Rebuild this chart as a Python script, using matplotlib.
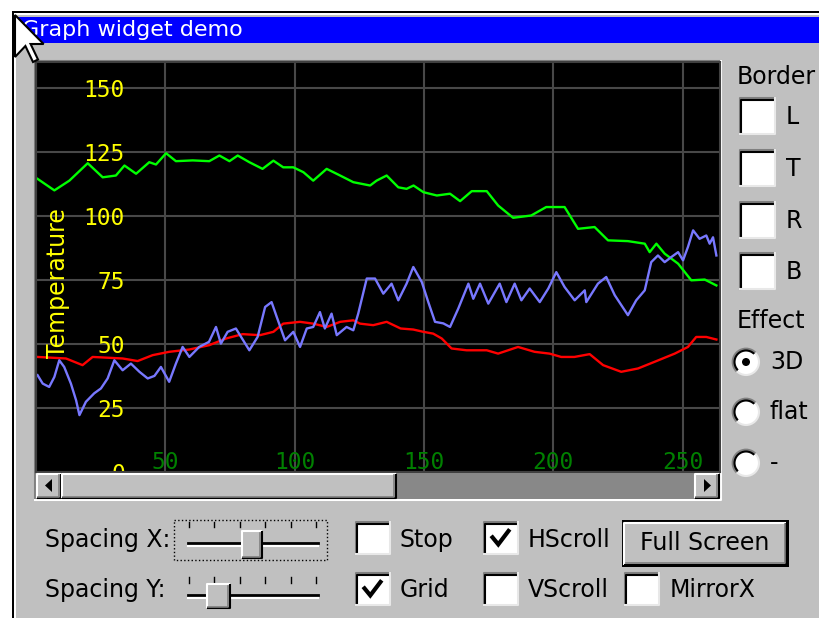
import matplotlib

matplotlib.use("Agg")
import matplotlib.pyplot as plt
from matplotlib.patches import Arc, Circle, Polygon, Rectangle
import numpy as np

# ---------------------------------------------------------------------------
# Data
# ---------------------------------------------------------------------------

green_x = [0.6, 7.1, 12.9, 20, 25.8, 30.9, 34.2, 38.7, 43.8, 46.4, 50.3, 54.1, 60.6, 67,
           70.9, 74.8, 78, 82.5, 87.6, 91.8, 95.6, 99.5, 103.4, 107.2, 112.4, 117.6,
           122.7, 129.2, 131.7, 135.6, 140.1, 143.3, 146, 149.8, 155, 160.1, 164, 168.5,
           174.3, 178.7, 184.5, 191.5, 197.3, 204.4, 209.6, 216, 221.2, 228.9, 235.4,
           237.3, 239.9, 243.1, 248.3, 253.4, 258.6, 263.1]
green_y = [114.4, 109.9, 113.7, 120.5, 115, 115.7, 119.6, 116.4, 120.9, 120, 124.4, 121.3,
           121.6, 121.3, 123.5, 121.3, 123.5, 120.9, 118.3, 121.5, 118.9, 118.9, 117, 113.7,
           118.3, 115.7, 113.1, 111.8, 113.7, 115.7, 111.1, 110.5, 111.8, 109.2, 107.9,
           108.6, 105.7, 109.6, 109.6, 104, 99.2, 100.1, 103.4, 103.4, 94.9, 95.6, 90.4,
           90.1, 89.1, 85.8, 89.1, 85.2, 81.3, 74.8, 75.1, 72.8]

red_x = [0.6, 11.6, 18, 21.9, 33.5, 39.3, 45.1, 51.5, 59.3, 67, 73.5, 79.9, 86.6, 91.8,
         95.6, 102.1, 107.2, 112.4, 117.6, 122.7, 125.3, 130.4, 135.6, 141, 145.9, 149.8,
         153.6, 156.9, 160.7, 166.5, 174.3, 178.7, 186.4, 192.8, 198.6, 203.1, 208.2,
         214.1, 219.3, 226.3, 232.8, 239.2, 247, 252.1, 255.3, 259.2, 263.1]
red_y = [44.9, 44.3, 41.7, 44.9, 44.3, 43.3, 45.6, 46.9, 47.8, 49.5, 52.1, 53.8, 53.4, 54.7,
         57.9, 58.6, 57.9, 56.6, 58.6, 59.2, 57.9, 57.3, 58.6, 56, 55.6, 54.7, 54, 52.1,
         48.2, 47.5, 47.5, 46.2, 48.8, 46.9, 46.2, 44.9, 44.9, 46, 41.7, 39.1, 40.4, 43,
         46.2, 48.8, 52.7, 52.7, 51.7]

blue_x = [0.6, 2.6, 5.1, 7.1, 9, 10.9, 13.5, 15.5, 16.8, 19.3, 22.5, 25.1, 27.7, 30.3, 33.5,
          36.7, 40, 43.2, 45.8, 48.3, 51.5, 54.1, 56.7, 59.3, 63.1, 66.9, 69.6, 71.5, 74.1,
          77.3, 82.5, 85.7, 88.6, 91.1, 93.1, 96.3, 99.5, 102.1, 104.7, 107.2, 109.8, 111.7,
          114.3, 116.3, 120.1, 122.7, 124.6, 127.9, 131.1, 134.3, 137.5, 140.1, 143.3,
          145.9, 149.2, 151.7, 154.3, 157.5, 160.1, 163.3, 167.2, 169.1, 171.7, 174.9,
          179.3, 181.9, 185.1, 187.7, 190.9, 194.8, 198.1, 201.2, 204.4, 208.3, 212.2,
          212.8, 217.3, 220.5, 223.8, 228.9, 232.1, 235.4, 237.9, 240.5, 243.1, 245.7,
          248.3, 250.2, 252.1, 254.1, 256.6, 259.2, 260.5, 261.8, 263.1]
blue_y = [37.8, 34.5, 33.2, 37.1, 43.6, 41, 34.5, 28, 22.2, 27.4, 30.7, 32.6, 36.5, 43.6,
          39.7, 42.3, 39.1, 36.5, 37.5, 41, 35.2, 42.3, 48.8, 44.9, 48.8, 50.8, 56.6, 50.1,
          54.7, 56, 47.5, 52.7, 64.4, 66.3, 60.5, 51.4, 54.7, 48.8, 56, 56.6, 62.4, 56, 61.8,
          53.4, 56.6, 55.3, 61.8, 75.5, 75.5, 69.6, 73.5, 67, 73.5, 80, 74.1, 66.3, 58.6,
          58, 56.6, 63.8, 73.5, 67.6, 73.5, 65.7, 73.5, 66.3, 73.5, 67, 71.6, 66.3, 71.6,
          78, 72.2, 67, 70.9, 66.3, 73.5, 76.1, 69, 61.2, 67, 70.9, 81.9, 84.5, 81.9, 83.9,
          85.8, 82.6, 87.8, 94.3, 91, 92.3, 89.1, 91.6, 84.5]

x_ticks = [0, 50, 100, 150, 200, 250]
x_tick_labels = ["", "50", "100", "150", "200", "250"]
y_ticks = [0, 25, 50, 75, 100, 125, 150]
y_tick_labels = ["0", "25", "50", "75", "100", "125", "150"]

W, H = 820, 618
GRAY = "#c0c0c0"
DARK = "#808080"
FONT = "DejaVu Sans"


# ---------------------------------------------------------------------------
# Helpers for the window chrome (pixel coordinates, y down)
# ---------------------------------------------------------------------------


def box(ax, x0, y0, x1, y1, color, z=1):
    ax.add_patch(Rectangle((x0, y0), x1 - x0, y1 - y0, fc=color, ec="none", zorder=z))


def raised(ax, x0, y0, x1, y1, z=2):
    box(ax, x0, y0, x1, y1, GRAY, z)
    ax.plot([x0, x0, x1], [y1, y0, y0], color="white", lw=1.5, zorder=z + 0.1, solid_capstyle="butt")
    ax.plot([x0, x1, x1], [y1, y1, y0], color="black", lw=1.5, zorder=z + 0.1, solid_capstyle="butt")
    ax.plot([x0 + 1.5, x1 - 1.5, x1 - 1.5], [y1 - 1.5, y1 - 1.5, y0 + 1.5],
            color=DARK, lw=1.2, zorder=z + 0.1)


def checkbox(ax, x0, y0, x1, y1, checked=False):
    box(ax, x0, y0, x1, y1, "white", 2)
    ax.plot([x0, x0, x1], [y1, y0, y0], color=DARK, lw=1.5, zorder=3)
    ax.plot([x0 + 1.5, x0 + 1.5, x1 - 1.5], [y1 - 1.5, y0 + 1.5, y0 + 1.5], color="black", lw=1.5, zorder=3)
    ax.plot([x0, x1, x1], [y1, y1, y0], color="#e8e8e8", lw=1.5, zorder=3)
    if checked:
        w, h = x1 - x0, y1 - y0
        ax.plot([x0 + 0.25 * w, x0 + 0.42 * w, x0 + 0.72 * w],
                [y0 + 0.48 * h, y0 + 0.70 * h, y0 + 0.28 * h],
                color="black", lw=3, zorder=4, solid_joinstyle="miter")


def radio(ax, cx, cy, r=13, selected=False):
    # y axis is inverted, so 135..315 degrees is the upper-left half on screen
    ax.add_patch(Circle((cx, cy), r, fc="white", ec="#e8e8e8", lw=1.5, zorder=2))
    ax.add_patch(Arc((cx, cy), 2 * r, 2 * r, theta1=135, theta2=315, color=DARK, lw=2, zorder=3))
    ax.add_patch(Arc((cx, cy), 2 * r - 3, 2 * r - 3, theta1=135, theta2=315,
                     color="black", lw=1.5, zorder=3))
    if selected:
        ax.add_patch(Circle((cx, cy), 4, fc="black", ec="none", zorder=4))


def label(ax, x, y, s, size=17, **kw):
    ax.text(x, y, s, fontsize=size, family=FONT, va="center", ha="left", color="black", **kw)


# ---------------------------------------------------------------------------
# Figure
# ---------------------------------------------------------------------------

fig = plt.figure(figsize=(W / 100, H / 100), dpi=100, facecolor="white")
ui = fig.add_axes([0, 0, 1, 1], zorder=0)
ui.set_xlim(0, W)
ui.set_ylim(H, 0)
ui.axis("off")

# window frame and title bar
box(ui, 12, 11, W + 5, H + 5, "black", 0.5)
box(ui, 14, 13, W + 5, H + 5, "white", 0.6)
box(ui, 16, 15, W + 5, H + 5, GRAY, 0.7)
box(ui, 16, 17, W, 43, "#0000ff", 1)
ui.text(22, 30, "Graph widget demo", color="white", fontsize=16, family=FONT,
        va="center", ha="left", zorder=2)

# sunken frame round the graph
ui.plot([35, 35, 721], [499, 61, 61], color=DARK, lw=1.5, zorder=1)
ui.plot([35, 721, 721], [500, 500, 61], color="white", lw=1.5, zorder=1)

# right panel
label(ui, 737, 77, "Border")
for y0, txt in zip([98, 150, 202, 253], ["L", "T", "R", "B"]):
    checkbox(ui, 740, y0, 775, y0 + 36)
    label(ui, 786, y0 + 19, txt)
label(ui, 737, 321, "Effect")
for cy, txt, sel in zip([362, 412, 463], ["3D", "flat", "-"], [True, False, False]):
    radio(ui, 746, cy, selected=sel)
    label(ui, 770, cy, txt)

# bottom controls
label(ui, 45, 540, "Spacing X:")
label(ui, 45, 590, "Spacing Y:")
ui.add_patch(Rectangle((174, 520), 153, 40, fc="none", ec="black", lw=1, ls=":", zorder=2))
for yt, yb, thumb in [(522, 527, (242, 531, 262, 558)), (577, 583, (207, 584, 230, 608))]:
    for tx in np.linspace(189, 316, 6):
        ui.plot([tx, tx], [yt, yb], color="black", lw=1, zorder=2)
    ty = (thumb[1] + thumb[3]) / 2
    ui.plot([188, 318], [ty - 1.5, ty - 1.5], color="black", lw=2, zorder=2)
    ui.plot([188, 318], [ty + 1.5, ty + 1.5], color="white", lw=1.5, zorder=2)
    raised(ui, *thumb, z=3)

checkbox(ui, 356, 522, 390, 554)
label(ui, 400, 540, "Stop")
checkbox(ui, 356, 573, 390, 605, checked=True)
label(ui, 400, 590, "Grid")
checkbox(ui, 484, 522, 518, 554, checked=True)
label(ui, 528, 540, "HScroll")
checkbox(ui, 484, 573, 518, 605)
label(ui, 528, 590, "VScroll")
checkbox(ui, 625, 573, 659, 605)
label(ui, 670, 590, "MirrorX")

box(ui, 622, 520, 789, 567, "black", 2)
raised(ui, 624.5, 522.5, 786.5, 564.5, z=3)
ui.text(705, 543, "Full Screen", fontsize=17, family=FONT, va="center", ha="center", zorder=5)

# ---------------------------------------------------------------------------
# Graph
# ---------------------------------------------------------------------------

ax = fig.add_axes([36 / W, (H - 472) / H, (720 - 36) / W, (472 - 62) / H], zorder=1)
ax.set_facecolor("black")
ax.plot(green_x, green_y, color="#00ff00", lw=1.7)
ax.plot(red_x, red_y, color="#ff0000", lw=1.7)
ax.plot(blue_x, blue_y, color="#7878ff", lw=1.7)
ax.set_xlim(0, 264.5)
ax.set_ylim(0, 160)
ax.set_xticks(x_ticks, x_tick_labels)
ax.set_yticks(y_ticks, y_tick_labels)
ax.grid(True, color="#484848", lw=1.5)
ax.set_axisbelow(True)
ax.tick_params(axis="y", length=0, pad=-64, labelcolor="#ffff00", labelsize=16.5)
ax.tick_params(axis="x", length=0, pad=-15, labelcolor="#008000", labelsize=16.5)
for t in ax.get_xticklabels() + ax.get_yticklabels():
    t.set_family("DejaVu Sans Mono")
for side in ("left", "top", "right", "bottom"):
    ax.spines[side].set_color("#404040")
    ax.spines[side].set_linewidth(1.5)
ax.text(0.032, 0.46, "Temperature", transform=ax.transAxes, rotation=90, color="#ffff00",
        fontsize=17, family=FONT, ha="center", va="center")

# ---------------------------------------------------------------------------
# Scrollbar and cursor on top
# ---------------------------------------------------------------------------

top = fig.add_axes([0, 0, 1, 1], zorder=2)
top.set_xlim(0, W)
top.set_ylim(H, 0)
top.axis("off")
top.patch.set_alpha(0)

box(top, 36, 473, 720, 499, "#888888", 1)
raised(top, 37, 473.5, 61, 498)
raised(top, 62, 473.5, 396, 498)
raised(top, 695, 473.5, 719, 498)
top.add_patch(Polygon([[45, 485.5], [52, 479], [52, 492]], fc="black", ec="none", zorder=5))
top.add_patch(Polygon([[711, 485.5], [704, 479], [704, 492]], fc="black", ec="none", zorder=5))

cursor = [[15, 15], [15, 57], [25.4, 46], [33, 62], [38, 59.5], [30.6, 44], [43.6, 44]]
top.add_patch(Polygon(cursor, fc="white", ec="black", lw=1.5, zorder=10))

fig.savefig("out.png", dpi=100, facecolor="white")
plt.close(fig)
